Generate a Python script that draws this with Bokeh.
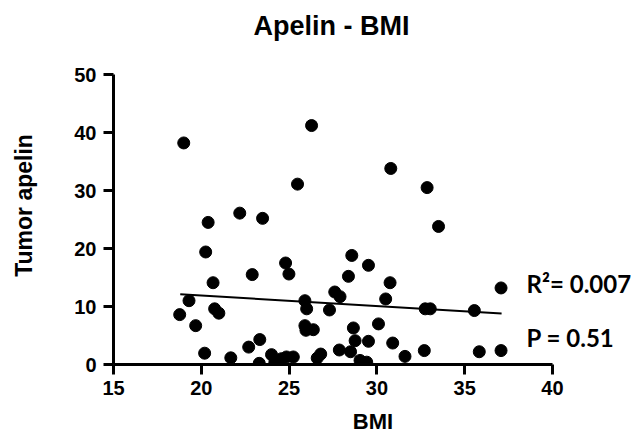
from bokeh.plotting import figure
from bokeh.models import Range1d, Label, FixedTicker
from bokeh.embed import file_html
from bokeh.resources import INLINE

bmi = [18.77, 19.30, 19.68, 20.19, 20.25, 20.39, 20.67, 20.76, 21.00, 21.68,
       22.70, 22.90, 23.33, 23.30, 23.49, 24.00, 24.19, 24.57, 24.85, 25.24,
       24.80, 24.99, 25.90, 26.00, 25.90, 25.96, 26.38, 26.60, 26.80, 27.30,
       27.60, 27.86, 19.00, 22.19, 25.48, 26.28, 30.79, 32.86, 33.51, 28.57,
       29.52, 28.38, 30.75, 27.90, 30.50, 32.75, 33.04, 35.55, 37.07, 28.66,
       30.09, 28.76, 29.52, 30.90, 28.50, 32.70, 35.83, 37.07, 31.60, 29.04,
       29.42]
apelin = [8.6, 11.0, 6.7, 1.95, 19.4, 24.5, 14.1, 9.6, 8.85, 1.15,
          3.0, 15.5, 4.3, 0.2, 25.2, 1.7, 0.4, 1.0, 1.3, 1.3,
          17.5, 15.6, 11.0, 9.6, 6.7, 5.9, 6.0, 1.1, 1.8, 9.4,
          12.5, 2.5, 38.2, 26.1, 31.1, 41.2, 33.8, 30.5, 23.8, 18.8,
          17.1, 15.2, 14.1, 11.7, 11.3, 9.6, 9.6, 9.3, 13.2, 6.3,
          7.0, 4.1, 4.0, 3.7, 2.2, 2.4, 2.2, 2.4, 1.4, 0.7,
          0.4]
fit_x = [18.8, 37.1]
fit_y = [12.1, 8.8]
x_ticks = [15, 20, 25, 30, 35, 40]
y_ticks = [0, 10, 20, 30, 40, 50]
r2_text = "R\u00b2= 0.007"
p_text = "P = 0.51"

p = figure(width=632, height=438, output_backend="svg", toolbar_location=None,
           x_range=Range1d(15, 44.556), y_range=Range1d(0, 54.83),
           title="Apelin - BMI",
           min_border_left=113, min_border_right=0,
           min_border_top=46, min_border_bottom=74)
p.background_fill_color = "white"
p.border_fill_color = "white"
p.outline_line_color = None
p.grid.visible = False

p.title.align = "left"
p.title.offset = 140
p.title.vertical_align = "bottom"
p.title.standoff = 11
p.title.text_font = "Liberation Sans"
p.title.text_font_size = "27px"
p.title.text_font_style = "bold"
p.title.text_color = "black"

for ax, ticks in ((p.xaxis[0], x_ticks), (p.yaxis[0], y_ticks)):
    ax.ticker = FixedTicker(ticks=ticks)
    ax.axis_line_width = 3
    ax.axis_line_color = "black"
    ax.major_tick_line_width = 3
    ax.major_tick_line_color = "black"
    ax.major_tick_out = 10
    ax.major_tick_in = 0
    ax.minor_tick_line_color = None
    ax.major_label_text_font = "Liberation Sans"
    ax.major_label_text_font_style = "bold"
    ax.major_label_text_font_size = "20px"
    ax.major_label_text_color = "black"
    ax.axis_label_text_font = "Liberation Sans"
    ax.axis_label_text_font_style = "bold"
    ax.axis_label_text_color = "black"

p.xaxis.bounds = (15, 40)
p.yaxis.bounds = (0, 50)
p.xaxis.axis_label = "BMI"
p.yaxis.axis_label = "Tumor apelin"
p.xaxis.axis_label_text_font_size = "22px"
p.yaxis.axis_label_text_font_size = "23px"
p.xaxis.major_label_standoff = 6
p.xaxis.axis_label_standoff = 11
p.yaxis.major_label_standoff = 7
p.yaxis.axis_label_standoff = 34
p.yaxis.major_label_orientation = "horizontal"

p.scatter(bmi, apelin, size=12, color="black")
p.line(fit_x, fit_y, line_width=2, color="black")

for txt, yy in ((r2_text, 14.0), (p_text, 4.7)):
    p.add_layout(Label(x=38.52, y=yy, text=txt, text_font="Lato",
                       text_font_style="bold", text_font_size="24px",
                       text_color="black", text_baseline="alphabetic"))

open("out.html", "w").write(file_html(p, INLINE))
